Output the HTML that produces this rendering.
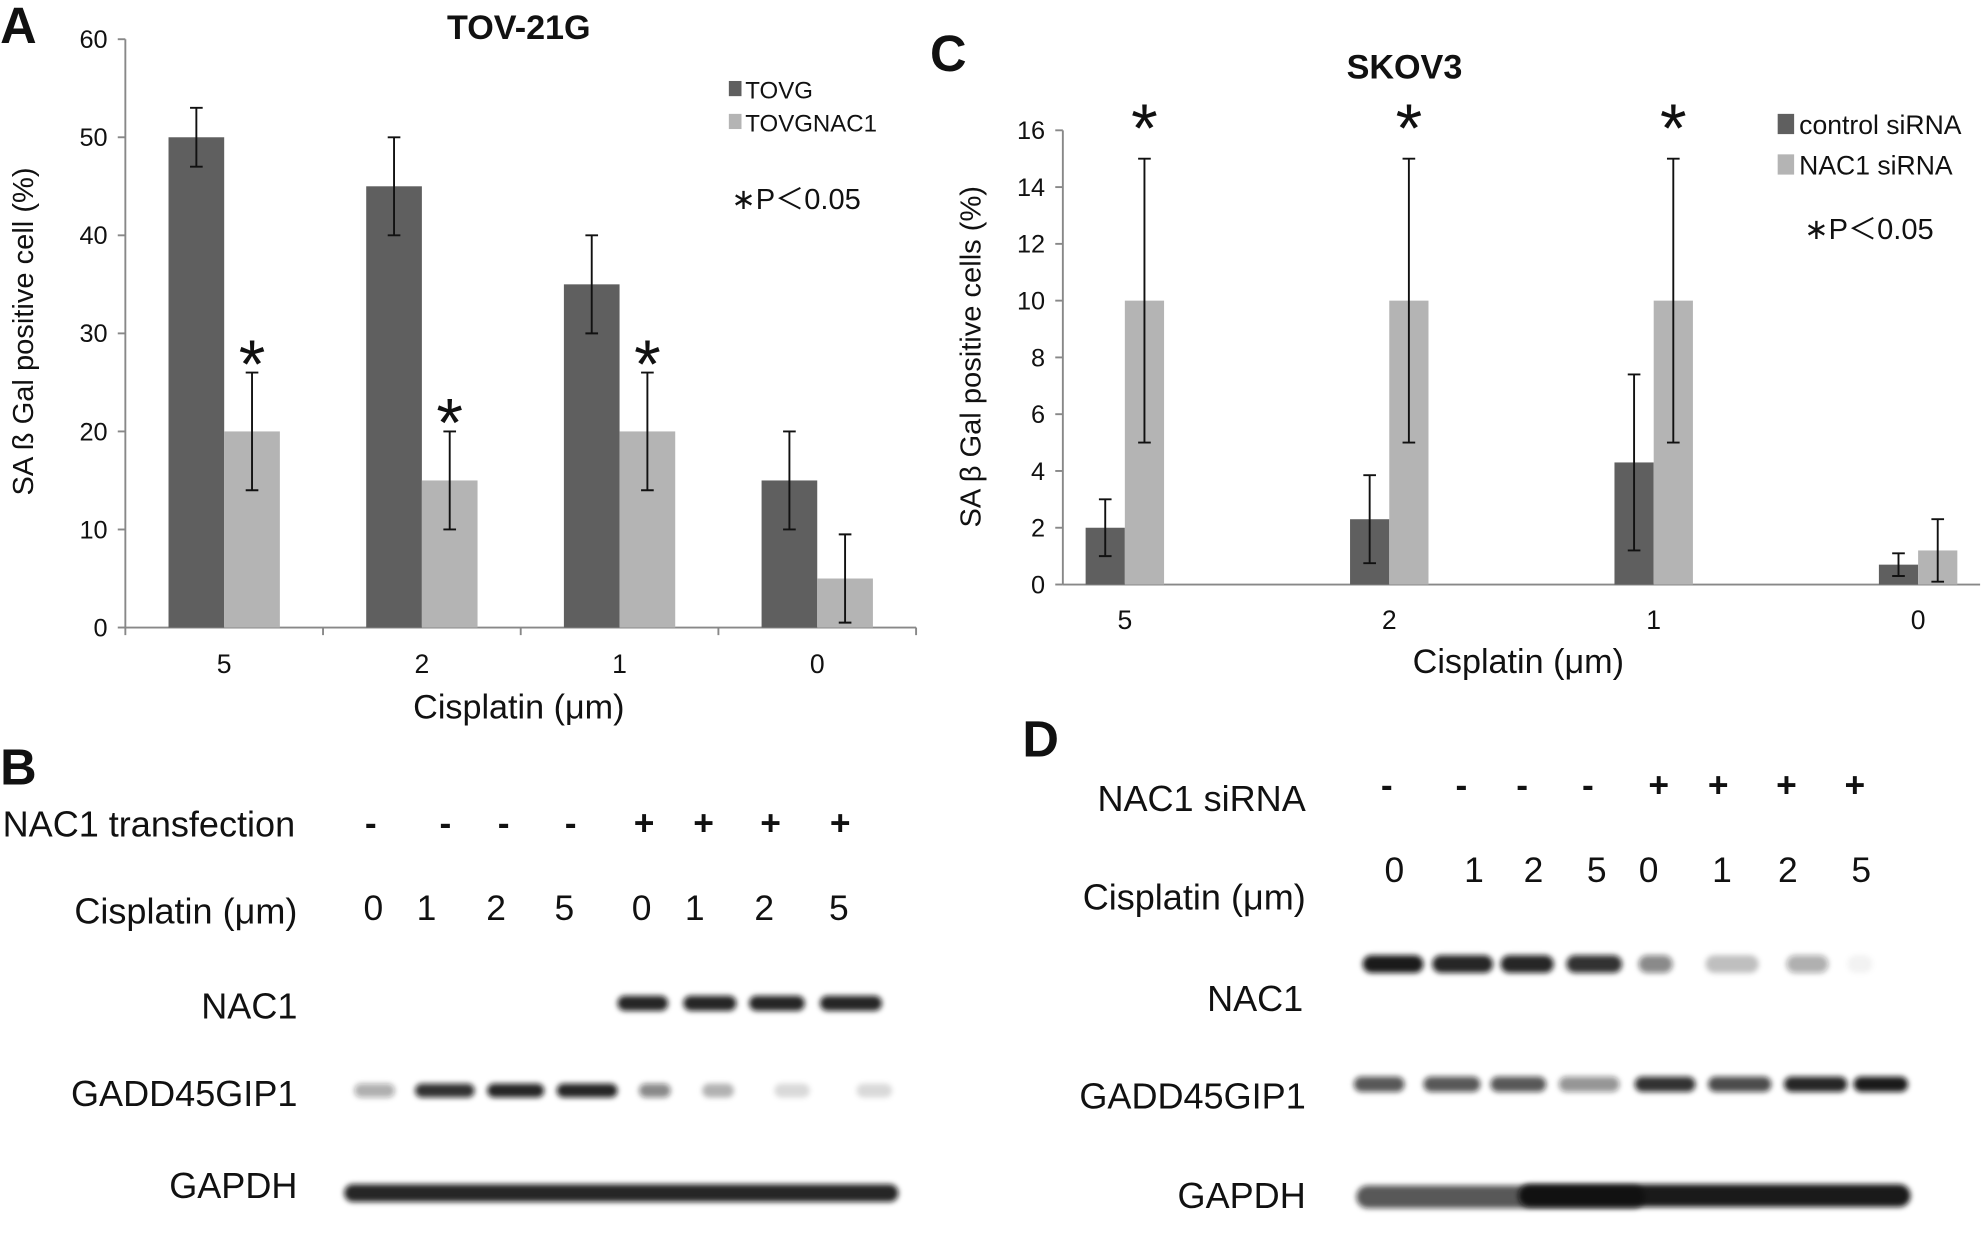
<!DOCTYPE html>
<html><head><meta charset="utf-8"><style>
html,body{margin:0;padding:0;background:#fff;}
svg{display:block;}
text{font-family:"Liberation Sans",Arial,sans-serif;fill:#111;}
</style></head><body>
<svg id="fig" width="1984" height="1250" viewBox="0 0 1568 988" xmlns="http://www.w3.org/2000/svg">
<defs>
<filter id="blur" x="-20%" y="-100%" width="140%" height="300%"><feGaussianBlur stdDeviation="2.2"/></filter>
</defs>
<g id="panelA"></g>
<g id="panelC"></g>
<g id="blots"></g>
</svg>
<script>
// Panel A data
const catsA = ["5","2","1","0"];
const tovg = [50,45,35,15];
const tovgErr = [3,5,5,5];
const tovgnac1 = [20,15,20,5];
const tovgnac1Err = [6,5,6,4.5];
const sigA = [true,true,true,false];
const ticksA = [0,10,20,30,40,50,60];
// Panel C data
const catsC = ["5","2","1","0"];
const ctrl = [2,2.3,4.3,0.7];
const ctrlErr = [1,1.55,3.1,0.4];
const nac = [10,10,10,1.2];
const nacErr = [5,5,5,1.1];
const sigC = [true,true,true,false];
const ticksC = [0,2,4,6,8,10,12,14,16];

const NS="http://www.w3.org/2000/svg";
function mk(parent,tag,attrs,txt){const e=document.createElementNS(NS,tag);for(const k in attrs)e.setAttribute(k,attrs[k]);if(txt!==undefined)e.textContent=txt;parent.appendChild(e);return e;}

function chart(g,o){
  const y=v=>o.y0-(v-o.ymin)/(o.ymax-o.ymin)*(o.y0-o.y1);
  const gw=o.gw||(o.x1-o.x0)/o.cats.length;
  const c0=o.c0||(o.x0+gw/2);
  const ax=mk(g,'line',{x1:o.x0,y1:o.y1,x2:o.x0,y2:o.y0,stroke:'#888','stroke-width':1.5});
  
  
  const bx=mk(g,'line',{x1:o.x0,y1:o.y0,x2:o.x1,y2:o.y0,stroke:'#888','stroke-width':1.5});
  
  
  o.ticks.forEach(t=>{
    mk(g,'line',{x1:o.x0-6,y1:y(t),x2:o.x0,y2:y(t),stroke:'#888','stroke-width':1.5});
    const tl=mk(g,'text',{x:o.x0-14,y:y(t)+7,'text-anchor':'end','font-size':20},String(t));
    
    
  });
  if(o.xticks){for(let i=0;i<=o.cats.length;i++){mk(g,'line',{x1:o.x0+i*gw,y1:o.y0,x2:o.x0+i*gw,y2:o.y0+6,stroke:'#888','stroke-width':1.5});}}
  o.cats.forEach((c,i)=>{
    const cx=c0+gw*i;
    const xl=mk(g,'text',{x:cx,y:o.catY,'text-anchor':'middle','font-size':21},c);
    
    
    [[o.s1,o.e1,'#5f5f5f',-1],[o.s2,o.e2,'#b4b4b4',0]].forEach(([s,e,col,off],k)=>{
      const bx0=cx+off*o.bw;
      const r=mk(g,'rect',{x:bx0,y:y(s[i]),width:o.bw,height:y(0)-y(s[i]),fill:col});
      
      
      const mx=bx0+o.bw/2;
      const eb=mk(g,'path',{d:`M${mx} ${y(s[i]+e[i])}V${y(s[i]-e[i])}M${mx-5} ${y(s[i]+e[i])}h10M${mx-5} ${y(s[i]-e[i])}h10`,stroke:'#111','stroke-width':1.5,fill:'none'});
      
      
    });
    if(o.sig[i]){
      const sy=o.starFixed?o.starFixed:y(o.s2[i]+o.e2[i])-12;
      const st=mk(g,'text',{x:cx+o.bw/2,y:sy+24,'text-anchor':'middle','font-size':54},'*');
      
      
    }
  });
}

const A=document.getElementById('panelA');
chart(A,{x0:99,x1:724,y0:496,y1:31,ymin:0,ymax:60,cats:catsA,s1:tovg,e1:tovgErr,s2:tovgnac1,e2:tovgnac1Err,sig:sigA,ticks:ticksA,bw:44,catY:532,xticks:true});
const C=document.getElementById('panelC');
chart(C,{x0:840,x1:1565,y0:462,y1:103,ymin:0,ymax:16,cats:catsC,s1:ctrl,e1:ctrlErr,s2:nac,e2:nacErr,sig:sigC,ticks:ticksC,bw:31,catY:497,xticks:false,starFixed:96,c0:889,gw:209});

function T(parent,name,x,y,s,size,extra){const t=mk(parent,'text',Object.assign({x:x,y:y,'font-size':size},extra||{}),s);return t;}
// Panel A labels
T(A,'panel-letter-a',0,34,'A',40,{'font-weight':'bold'});
T(A,'chart-title-a',410,31,'TOV-21G',27,{'font-weight':'bold','text-anchor':'middle'});
T(A,'y-axis-title-a',0,0,'SA ß Gal positive cell (%)',23,{'text-anchor':'middle',transform:'translate(26,262) rotate(-90)'});
T(A,'x-axis-title-a',410,568,'Cisplatin (μm)',27,{'text-anchor':'middle'});
mk(A,'rect',{x:576,y:64,width:10,height:12,fill:'#5f5f5f'});
T(A,'legend-entry-tovg',589,78,'TOVG',19);
mk(A,'rect',{x:576,y:90,width:10,height:12,fill:'#b4b4b4'});
T(A,'legend-entry-tovgnac1',589,104,'TOVGNAC1',19);
T(A,'significance-note-a',578,165,'∗P＜0.05',23);
// Panel C labels
T(C,'panel-letter-c',735,56,'C',40,{'font-weight':'bold'});
T(C,'chart-title-c',1110,62,'SKOV3',27,{'font-weight':'bold','text-anchor':'middle'});
T(C,'y-axis-title-c',0,0,'SA β Gal positive cells (%)',23,{'text-anchor':'middle',transform:'translate(775,282) rotate(-90)'});
T(C,'x-axis-title-c',1200,532,'Cisplatin (μm)',27,{'text-anchor':'middle'});
mk(C,'rect',{x:1405,y:90,width:13,height:16,fill:'#5f5f5f'});
T(C,'legend-entry-control-sirna',1422,106,'control siRNA',21);
mk(C,'rect',{x:1405,y:122,width:13,height:16,fill:'#b4b4b4'});
T(C,'legend-entry-nac1-sirna',1422,138,'NAC1 siRNA',21);
T(C,'significance-note-c',1426,189,'∗P＜0.05',23);

// Blots
const Bg=document.getElementById('blots');
T(Bg,'panel-letter-b',0,620,'B',40,{'font-weight':'bold'});
T(Bg,'panel-letter-d',808,598,'D',40,{'font-weight':'bold'});
T(Bg,'label-nac1-transfection',2,661,'NAC1 transfection',28.5);
T(Bg,'label-cisplatin-b',235,730,'Cisplatin (μm)',28.5,{'text-anchor':'end'});
T(Bg,'label-nac1-b',235,805,'NAC1',28.5,{'text-anchor':'end'});
T(Bg,'label-gadd-b',235,874,'GADD45GIP1',28.5,{'text-anchor':'end'});
T(Bg,'label-gapdh-b',235,947,'GAPDH',28.5,{'text-anchor':'end'});
T(Bg,'label-nac1-sirna',1032,641,'NAC1 siRNA',28.5,{'text-anchor':'end'});
T(Bg,'label-cisplatin-d',1032,719,'Cisplatin (μm)',28.5,{'text-anchor':'end'});
T(Bg,'label-nac1-d',1030,799,'NAC1',28.5,{'text-anchor':'end'});
T(Bg,'label-gadd-d',1032,876,'GADD45GIP1',28.5,{'text-anchor':'end'});
T(Bg,'label-gapdh-d',1032,955,'GAPDH',28.5,{'text-anchor':'end'});
const signsB=["-","-","-","-","+","+","+","+"];
const lanesB=[293,352,398,451,509,556,609,664];
const numsB=["0","1","2","5","0","1","2","5"];
const numXB=[295,337,392,446,507,549,604,663];
signsB.forEach((s,i)=>T(Bg,'sign-b',lanesB[i],660,s,28,{'text-anchor':'middle','font-weight':'bold'}));
numsB.forEach((s,i)=>T(Bg,'conc-b',numXB[i],727,s,28,{'text-anchor':'middle'}));
const lanesD=[1096,1155,1203,1255,1311,1358,1412,1466];
const numXD=[1102,1165,1212,1262,1303,1361,1413,1471];
signsB.forEach((s,i)=>T(Bg,'sign-d',lanesD[i],630,s,28,{'text-anchor':'middle','font-weight':'bold'}));
numsB.forEach((s,i)=>T(Bg,'conc-d',numXD[i],697,s,28,{'text-anchor':'middle'}));
function band(x0,x1,yc,h,op){const e=mk(Bg,'rect',{x:x0,y:yc-h/2,width:x1-x0,height:h,rx:h/2,fill:'#111','fill-opacity':op,filter:'url(#blur)'});}
[[488,528],[540,582],[592,636],[648,697]].forEach(b=>band(b[0],b[1],793,12,0.9));
[[280,312,0.35],[328,375,0.85],[385,430,0.9],[440,488,0.9],[505,530,0.5],[555,580,0.3],[612,640,0.15],[677,705,0.15]].forEach(b=>band(b[0],b[1],862,11,b[2]));
band(272,710,943,14,0.9);
[[1077,1125,0.95],[1132,1180,0.9],[1186,1228,0.9],[1238,1282,0.85],[1295,1322,0.5],[1348,1390,0.25],[1412,1445,0.35],[1460,1480,0.05]].forEach(b=>band(b[0],b[1],762,14,b[2]));
[[1070,1110,0.7],[1125,1170,0.7],[1178,1222,0.7],[1232,1280,0.45],[1292,1340,0.85],[1350,1400,0.75],[1410,1460,0.9],[1465,1508,0.95]].forEach(b=>band(b[0],b[1],857,12,b[2]));
band(1072,1300,946,18,0.7);
band(1200,1510,945,18,0.95);
</script>
</body></html>
